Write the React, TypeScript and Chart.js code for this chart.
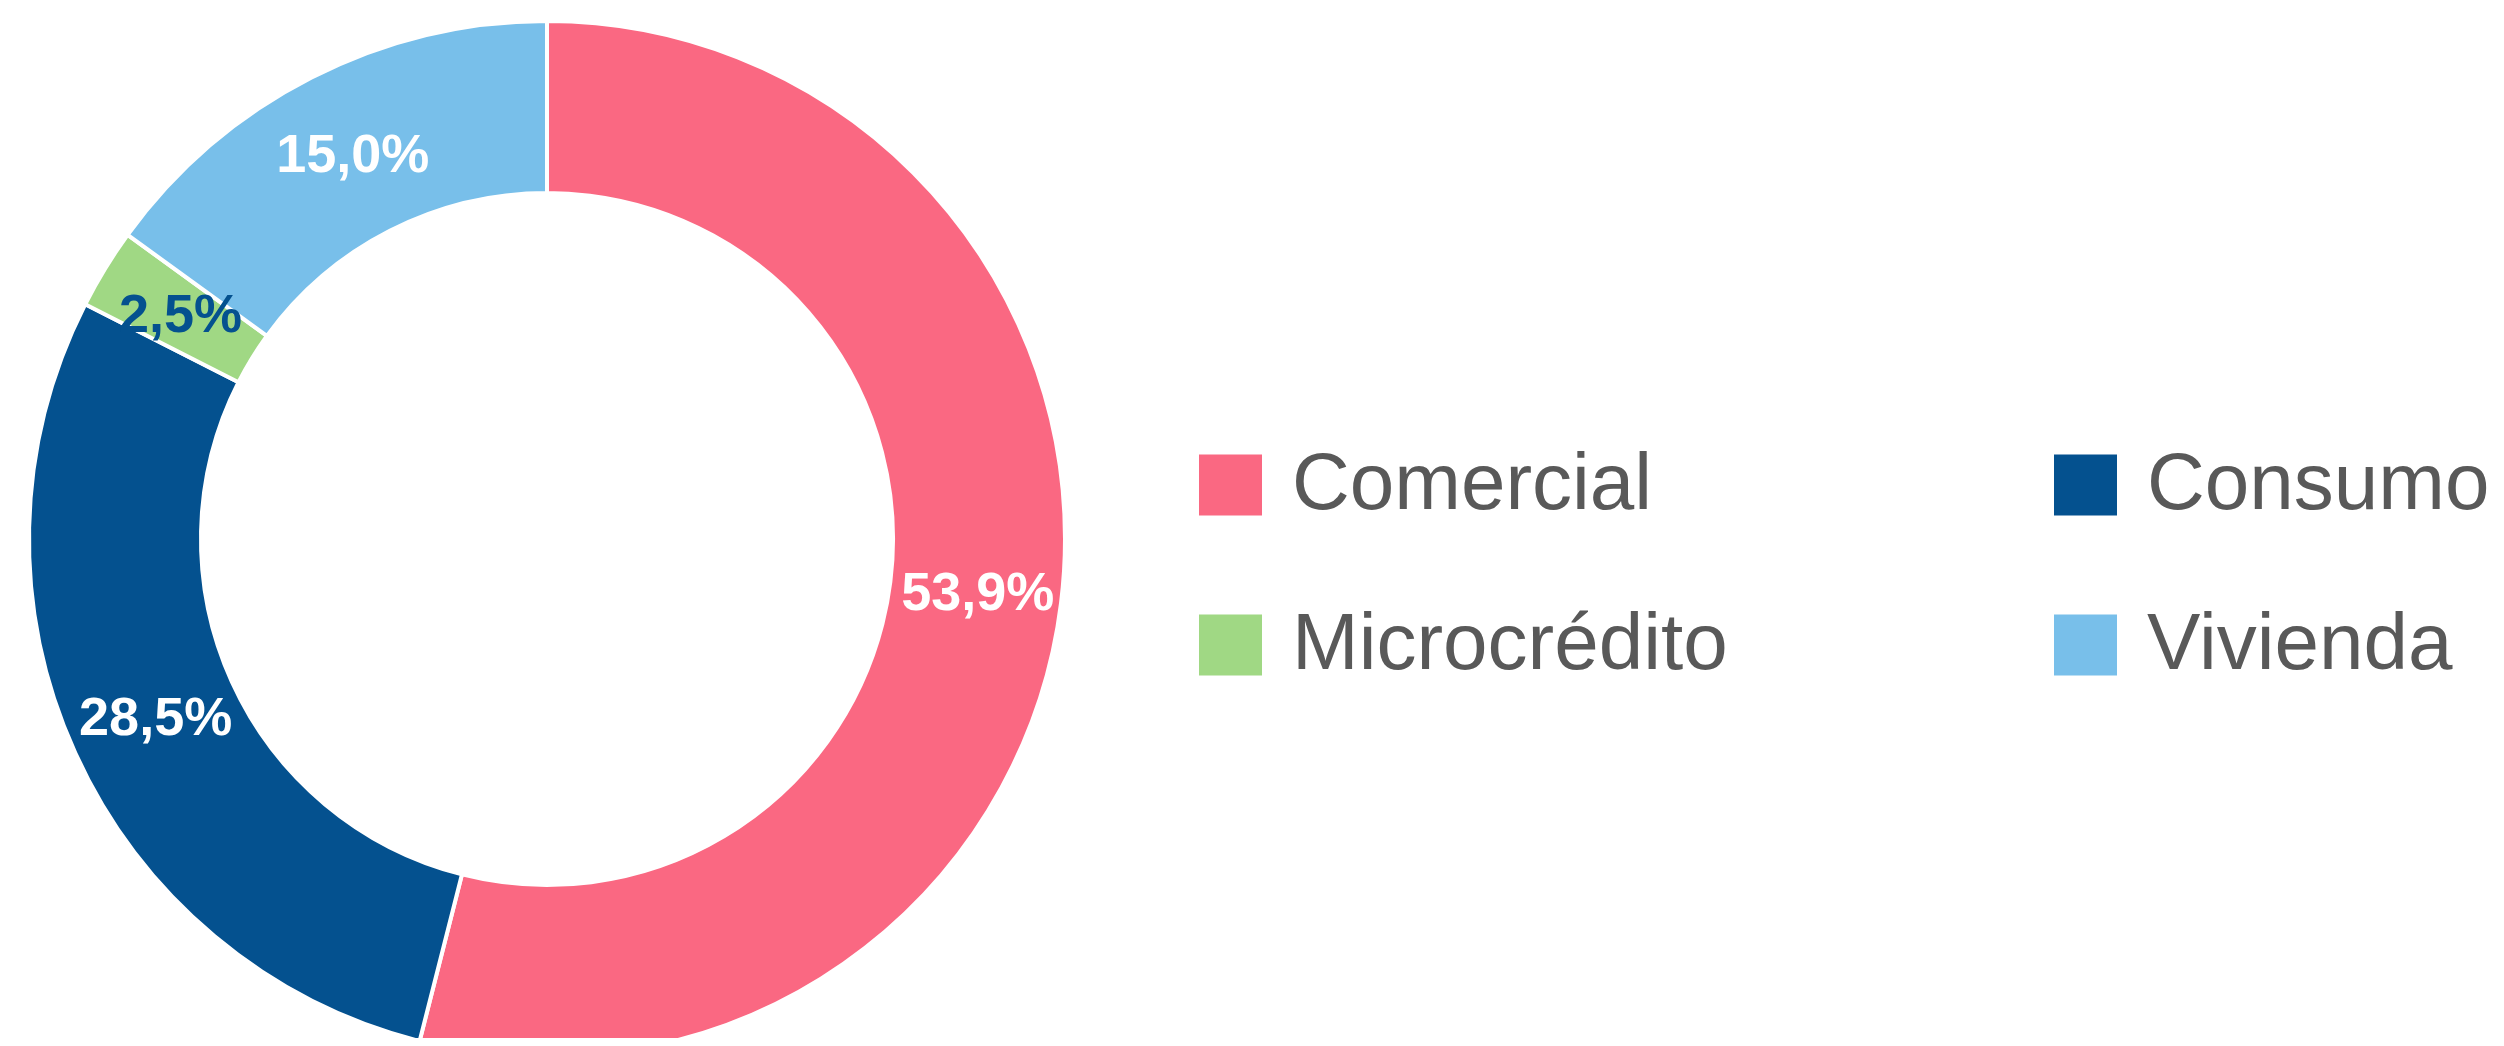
import React, { useEffect, useRef } from "react";
import { Chart, registerables } from "chart.js";

Chart.register(...registerables);

const categories = ["Comercial", "Consumo", "Microcrédito", "Vivienda"];
const shares = [53.9, 28.5, 2.5, 15.0];
const sliceColors = ["#FA6882", "#04518F", "#A0D884", "#78BFEA"];
const valueLabelColors = ["#FFFFFF", "#FFFFFF", "#04518F", "#FFFFFF"];
// legend grid order (row-major): [column, row] for each category
const legendCells = [
  [0, 0],
  [1, 0],
  [0, 1],
  [1, 1],
];

const formatShare = (v: number) => v.toFixed(1).replace(".", ",") + "%";

const valueLabelPlugin = {
  id: "valueLabels",
  afterDatasetsDraw(chart: any) {
    const ctx = chart.ctx;
    const meta = chart.getDatasetMeta(0);
    ctx.save();
    ctx.font = "bold 54px 'Liberation Sans', Arial, Helvetica, sans-serif";
    ctx.textAlign = "center";
    ctx.textBaseline = "middle";
    meta.data.forEach((arc: any, i: number) => {
      const p = arc.getCenterPoint();
      ctx.fillStyle = valueLabelColors[i];
      ctx.fillText(formatShare(shares[i]), p.x + 2, p.y + 3);
    });
    ctx.restore();
  },
};

const gridLegendPlugin = {
  id: "gridLegend",
  afterDraw(chart: any) {
    const ctx = chart.ctx;
    const colX = [1191, 2046];
    const rowY = [477, 637];
    const boxW = 63;
    const boxH = 61;
    const textGap = 30;
    ctx.save();
    ctx.font = "80px 'Liberation Sans', Arial, Helvetica, sans-serif";
    ctx.textAlign = "left";
    ctx.textBaseline = "middle";
    categories.forEach((name, i) => {
      const [c, r] = legendCells[i];
      const x = colX[c];
      const y = rowY[r];
      ctx.fillStyle = sliceColors[i];
      ctx.fillRect(x, y - boxH / 2, boxW, boxH);
      ctx.fillStyle = "#595959";
      ctx.fillText(name, x + boxW + textGap, y + 2);
    });
    ctx.restore();
  },
};

export default function App() {
  const canvasRef = useRef<HTMLCanvasElement | null>(null);

  useEffect(() => {
    if (!canvasRef.current) return;
    const chart = new Chart(canvasRef.current, {
      type: "doughnut",
      data: {
        labels: categories,
        datasets: [
          {
            data: shares,
            backgroundColor: sliceColors,
            borderColor: "#FFFFFF",
            borderWidth: 4,
            hoverOffset: 0,
          },
        ],
      },
      options: {
        animation: false,
        responsive: true,
        maintainAspectRatio: false,
        radius: 518,
        cutout: "66.8%",
        layout: { padding: { left: 0, right: 1410, top: 32, bottom: 8 } },
        plugins: {
          legend: { display: false },
          tooltip: { enabled: false },
        },
      } as any,
      plugins: [valueLabelPlugin, gridLegendPlugin],
    });
    return () => chart.destroy();
  }, []);

  return (
    <div
      style={{
        position: "relative",
        width: "100%",
        height: "1038px",
        marginBottom: "-8px",
      }}
    >
      <canvas ref={canvasRef} />
    </div>
  );
}
